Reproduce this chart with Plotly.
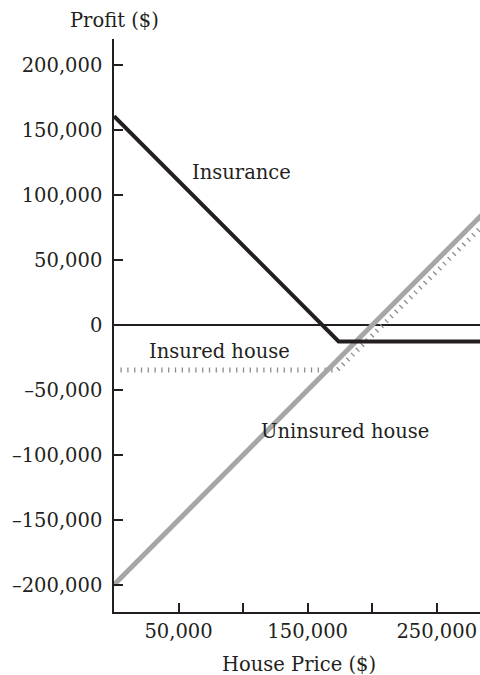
import plotly.graph_objects as go

# house price (x) and profit (y)
insurance_x = [0, 174000, 285000]
insurance_y = [161000, -12500, -12500]

uninsured_x = [0, 285000]
uninsured_y = [-200000, 85000]

insured_x = [5000, 173000, 285000]
insured_y = [-34500, -34500, 76000]

x_tickvals = [50000, 100000, 150000, 200000, 250000]
x_ticktext = ["50,000", "", "150,000", "", "250,000"]
y_tickvals = [-200000, -150000, -100000, -50000, 0, 50000, 100000, 150000, 200000]
y_ticktext = ["\u2013200,000", "\u2013150,000", "\u2013100,000", "\u201350,000", "0",
              "50,000", "100,000", "150,000", "200,000"]

FONT = "DejaVu Serif"
INK = "#231f20"

fig = go.Figure()
fig.add_trace(go.Scatter(
    x=insured_x, y=insured_y, mode="lines",
    line=dict(color="#8c8c8c", width=5, dash="1.3px,5.5px"),
    name="Insured house", hoverinfo="skip",
))
fig.add_trace(go.Scatter(
    x=uninsured_x, y=uninsured_y, mode="lines",
    line=dict(color="#a6a6a6", width=5),
    name="Uninsured house", hoverinfo="skip",
))
fig.add_trace(go.Scatter(
    x=insurance_x, y=insurance_y, mode="lines",
    line=dict(color=INK, width=4),
    name="Insurance", hoverinfo="skip",
))

# labels next to the lines (data coords)
for text, x, y in [
    ("Insurance", 98500, 117300),
    ("Insured house", 81500, -20600),
    ("Uninsured house", 178600, -82200),
]:
    fig.add_annotation(x=x, y=y, text=text, showarrow=False,
                       font=dict(family=FONT, size=19.5, color=INK),
                       xanchor="center", yanchor="middle")

# axis titles sit outside the plot, so paper coords
fig.add_annotation(x=0, y=1.033, xref="paper", yref="paper", text="Profit ($)",
                   showarrow=False, font=dict(family=FONT, size=19.5, color=INK),
                   xanchor="center", yanchor="middle")
fig.add_annotation(x=0.5055, y=-0.0908, xref="paper", yref="paper", text="House Price ($)",
                   showarrow=False, font=dict(family=FONT, size=19.5, color=INK),
                   xanchor="center", yanchor="middle")

fig.update_layout(
    width=480, height=675,
    paper_bgcolor="white", plot_bgcolor="white",
    margin=dict(l=114, r=0, t=39, b=63),
    showlegend=False,
    font=dict(family=FONT, size=19.5, color=INK),
    xaxis=dict(
        range=[0, 283500], showgrid=False, zeroline=False,
        showline=True, linecolor=INK, linewidth=1.5,
        ticks="inside", ticklen=9, tickwidth=1.5, tickcolor=INK,
        tickvals=x_tickvals, ticktext=x_ticktext,
        ticklabelstandoff=1,
    ),
    yaxis=dict(
        range=[-220900, 220400], showgrid=False,
        zeroline=True, zerolinecolor=INK, zerolinewidth=2,
        showline=True, linecolor=INK, linewidth=1.5,
        ticks="inside", ticklen=9, tickwidth=1.5, tickcolor=INK,
        tickvals=y_tickvals, ticktext=y_ticktext,
        ticklabelstandoff=6,
    ),
)

# drop the default page margin so the figure fills the window exactly
fig.write_html("out.html", config={"displayModeBar": False},
               post_script="document.body.style.margin='0';document.body.style.overflow='hidden';")
